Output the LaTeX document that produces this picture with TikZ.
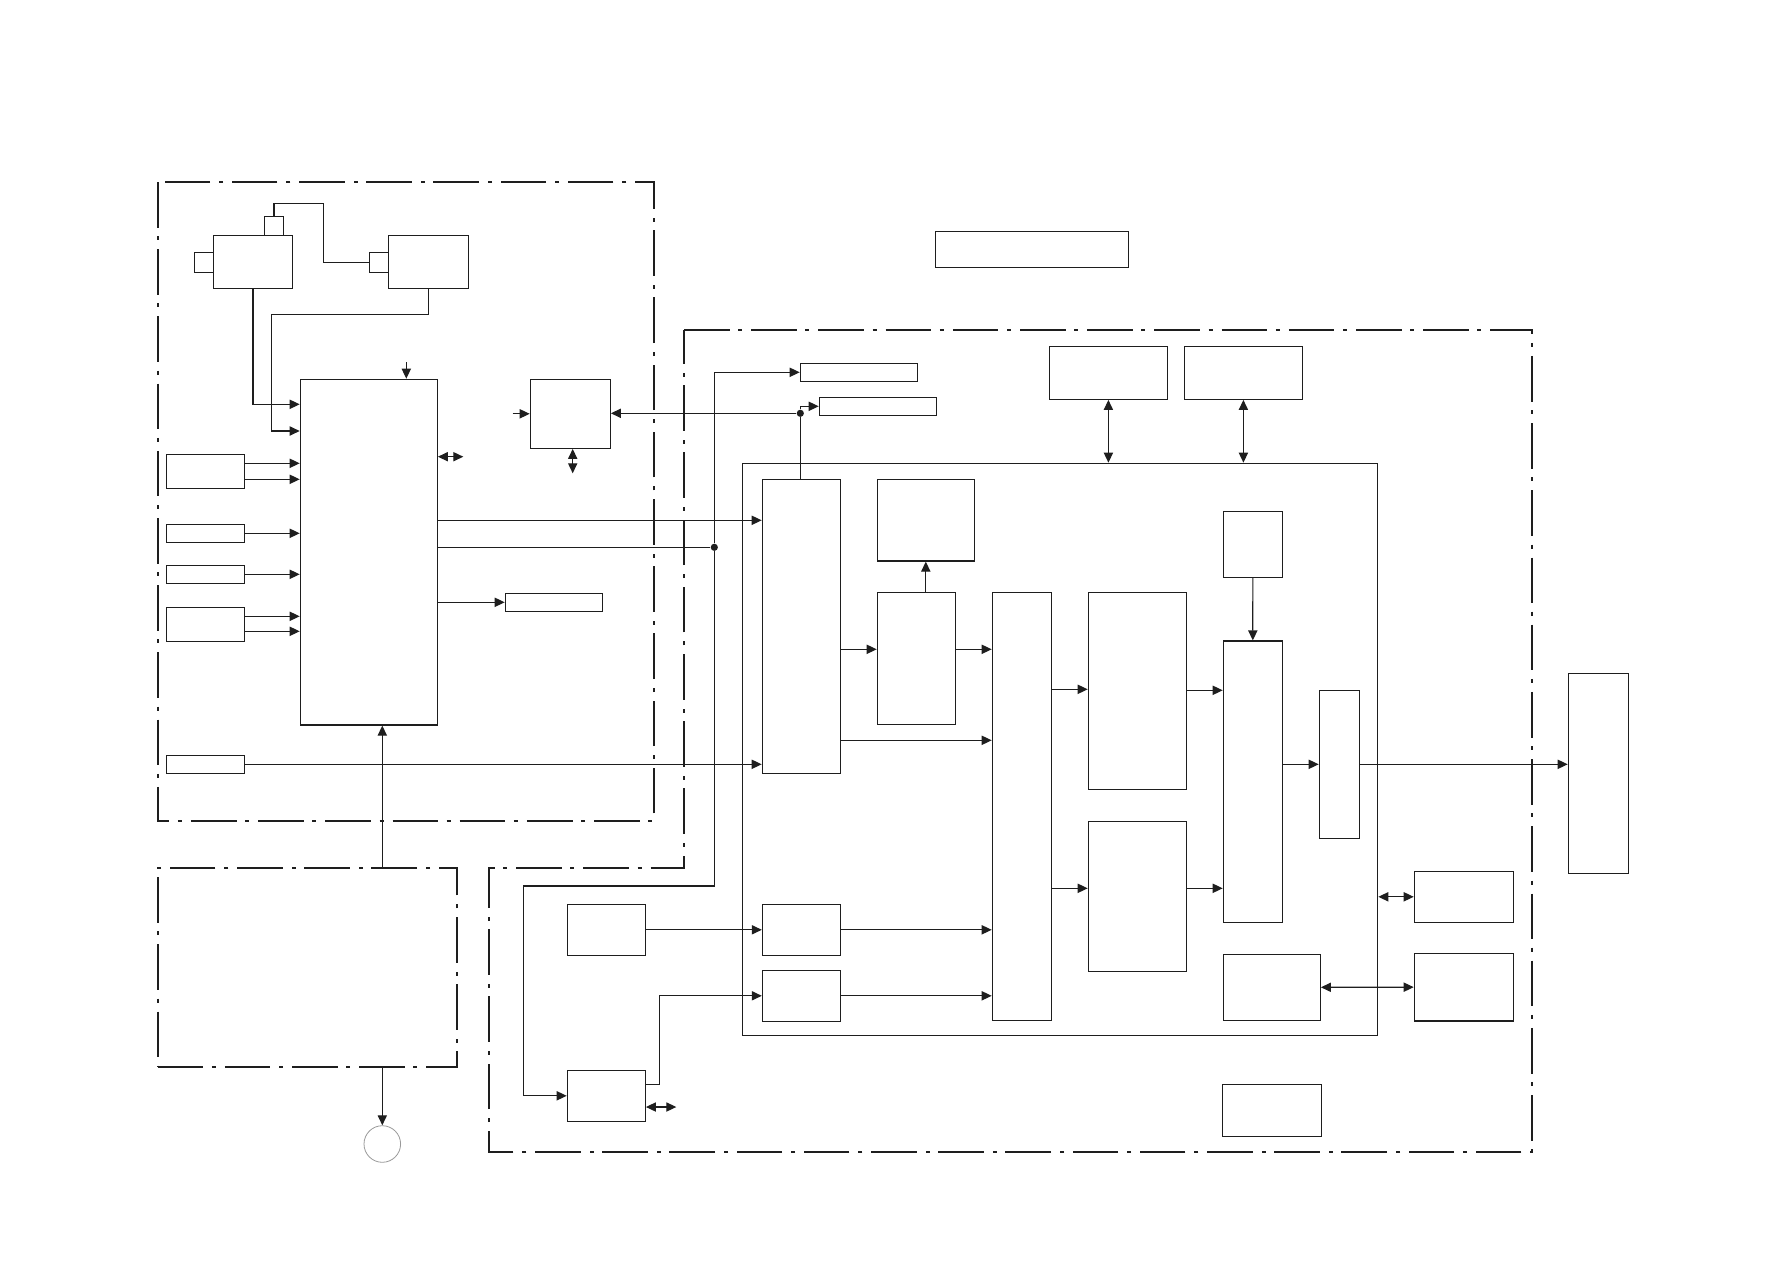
\documentclass[tikz,border=0pt]{standalone}
\usepackage{tikz}
\usetikzlibrary{arrows.meta,positioning,fit,calc}
\definecolor{linegray}{RGB}{30, 30, 30}

\begin{document}
\begin{tikzpicture}[
        x=0.5pt, y=-0.5pt,
        blk/.style={draw=linegray, line width=0.6pt, rectangle, inner sep=0pt},
        frame/.style={draw=linegray, line width=1.1pt, dash pattern=on 22.8pt off 4.3pt on 2pt off 4.5pt},
        dot/.style={circle, fill=linegray, inner sep=0pt, minimum size=3.6pt},
        arr/.style={draw=linegray, line width=0.6pt, -{Triangle[length=5pt, width=4.6pt]}},
        biarr/.style={draw=linegray, line width=0.6pt, {Triangle[length=5pt, width=4.6pt]}-{Triangle[length=5pt, width=4.6pt]}},
        wire/.style={draw=linegray, line width=0.6pt}
    ]
        \useasboundingbox (0,0) rectangle (1787,1263);

        % Frames
        \draw[frame] (157.6,182) rectangle (654,820.7);
        \draw[frame] (684,330.3) -- (1532,330.3) -- (1532,1151.7) -- (488.8,1151.7) -- (488.8,867.7) -- (684,867.7) -- cycle;
        \node[frame, rectangle, inner sep=0pt, fit={(157.6,867.7) (456.6,1066.7)}] (pwr) {};

        % Nodes: camera part
        \node[blk, fit={(213.3,235.3) (292.7,288.3)}] (cam) {};
        \node[blk, fit={(194.3,252.3) (213.3,272.3)}] (camside) {};
        \node[blk, fit={(264.3,216.3) (283.7,235.3)}] (camtop) {};
        \node[blk, fit={(388.3,235.3) (468.3,288.3)}] (lens) {};
        \node[blk, fit={(369.3,252.3) (388.3,272.3)}] (lensside) {};

        \node[blk, fit={(300.3,379.3) (437.3,725)}] (mcu) {};
        \node[blk, fit={(166.3,454.3) (244.3,488.3)}] (inA) {};
        \node[blk, fit={(166.3,524.3) (244.3,542.3)}] (inB) {};
        \node[blk, fit={(166.3,565.3) (244.3,583.3)}] (inC) {};
        \node[blk, fit={(166.3,607.3) (244.3,641.3)}] (inD) {};
        \node[blk, fit={(166.3,755.3) (244.3,773.3)}] (inE) {};
        \node[blk, fit={(505.3,593.3) (602.3,611.3)}] (outA) {};
        \node[blk, fit={(530.3,379.3) (610.3,448.3)}] (aux) {};
        \node[circle, draw=gray!80, line width=0.4pt, inner sep=0pt, minimum size=18.3pt] (gnd) at (382.3,1144) {};

        % Nodes: main board
        \node[blk, fit={(935.3,231.3) (1128.3,267.3)}] (title) {};
        \node[blk, fit={(1049.3,346.3) (1167.5,399.3)}] (memA) {};
        \node[blk, fit={(1184.3,346.3) (1302.5,399.3)}] (memB) {};
        \node[blk, fit={(742.3,463.3) (1377.7,1035.3)}] (soc) {};
        \node[blk, fit={(800.3,363.3) (917.3,381.3)}] (tagA) {};
        \node[blk, fit={(819.3,397.3) (936.3,415.3)}] (tagB) {};
        \node[blk, fit={(762.3,479.7) (840.3,773.3)}] (proc) {};
        \node[blk, fit={(877.3,479.7) (974.3,561)}] (boxC) {};
        \node[blk, fit={(877.3,592.3) (955.3,724.3)}] (boxCC) {};
        \node[blk, fit={(992.3,592.3) (1051.7,1020.3)}] (bus) {};
        \node[blk, fit={(1088.3,592.3) (1186.7,789.3)}] (gA) {};
        \node[blk, fit={(1088.3,821.3) (1186.7,971.3)}] (gB) {};
        \node[blk, fit={(1223.2,511.3) (1282.5,577.3)}] (boxF) {};
        \node[blk, fit={(1223.3,641) (1282.3,922.3)}] (mux) {};
        \node[blk, fit={(1319.3,690.3) (1359.7,838.3)}] (drv) {};
        \node[blk, fit={(1568.3,673.3) (1628.3,873.3)}] (disp) {};
        \node[blk, fit={(1414.3,871.3) (1513.3,922.3)}] (extA) {};
        \node[blk, fit={(1414.3,953.3) (1513.3,1021)}] (extB) {};
        \node[blk, fit={(1223.3,954.3) (1320.3,1020.3)}] (boxP) {};
        \node[blk, fit={(1222.3,1084.3) (1321.7,1136.3)}] (boxQ) {};
        \node[blk, fit={(567.3,904.3) (645.3,955.3)}] (boxJ) {};
        \node[blk, fit={(762.4,904.3) (840.5,955.3)}] (boxL) {};
        \node[blk, fit={(762.4,970.3) (840.5,1021.3)}] (boxM) {};
        \node[blk, fit={(567.3,1070.3) (645.3,1121.3)}] (boxK) {};

        % Junctions and free ends
        \node[dot] (jA) at (714.3,547.3) {};
        \node[dot] (jB) at (800.3,413.3) {};
        \coordinate (mcuin) at (406.3,362.3);
        \coordinate (mcuio) at (463.3,456.7);
        \coordinate (auxin) at (512.7,413.8);
        \coordinate (auxio) at (572.7,473.3);
        \coordinate (kio) at (676.3,1107);

        % Connectors: camera part
        \draw[wire] (camtop.north) |- (323.3,203.3) |- (lensside.west);
        \draw[arr] (cam.south) |- (mcu.west |- 0,404.3);
        \draw[arr] (lens.south) |- (271.3,314.3) |- (mcu.west |- 0,431);
        \draw[arr] (inA.east |- 0,463.3) -- (mcu.west |- 0,463.3);
        \draw[arr] (inA.east |- 0,479.3) -- (mcu.west |- 0,479.3);
        \draw[arr] (inB.east) -- (mcu.west |- inB.east);
        \draw[arr] (inC.east) -- (mcu.west |- inC.east);
        \draw[arr] (inD.east |- 0,616.3) -- (mcu.west |- 0,616.3);
        \draw[arr] (inD.east |- 0,631.3) -- (mcu.west |- 0,631.3);
        \draw[arr] (mcu.east |- outA.west) -- (outA.west);
        \draw[arr] (mcuin) -- (mcuin |- mcu.north);
        \draw[biarr] (mcu.east |- mcuio) -- (mcuio);
        \draw[arr] (auxin) -- (aux.west);
        \draw[biarr] (auxio |- aux.south) -- (auxio);
        \draw[arr] (382.3,0 |- pwr.north) -- (382.3,0 |- mcu.south);
        \draw[arr] (382.3,0 |- pwr.south) -- (gnd.north);

        % Connectors: to main board
        \draw[arr] (jB) -- (aux.east |- jB);
        \draw[arr] (jB) |- (tagB.west);
        \draw[wire] (jB) -- (jB |- proc.north);
        \draw[arr] (mcu.east |- 0,520.3) -- (proc.west |- 0,520.3);
        \draw[wire] (mcu.east |- jA) -- (jA);
        \draw[arr] (jA) |- (tagA.west);
        \draw[arr] (jA) |- (523.2,886) |- (boxK.west);
        \draw[arr] (inE.east) -- (proc.west |- inE.east);

        % Connectors: main board
        \draw[biarr] (memA.south) -- (memA.south |- soc.north);
        \draw[biarr] (memB.south) -- (memB.south |- soc.north);
        \draw[arr] (proc.east |- 0,649.3) -- (boxCC.west |- 0,649.3);
        \draw[arr] (boxCC.east |- 0,649.3) -- (bus.west |- 0,649.3);
        \draw[arr] (boxC.south |- boxCC.north) -- (boxC.south);
        \draw[arr] (proc.east |- 0,740.3) -- (bus.west |- 0,740.3);
        \draw[arr] (bus.east |- 0,689.3) -- (gA.west |- 0,689.3);
        \draw[arr] (bus.east |- 0,888.3) -- (gB.west |- 0,888.3);
        \draw[arr] (gA.east |- 0,690.3) -- (mux.west |- 0,690.3);
        \draw[arr] (gB.east |- 0,888.3) -- (mux.west |- 0,888.3);
        \draw[arr] (boxF.south) -- (mux.north);
        \draw[arr] (mux.east |- drv.west) -- (drv.west);
        \draw[arr] (drv.east) -- (disp.west |- drv.east);
        \draw[biarr] (soc.east |- extA.west) -- (extA.west);
        \draw[biarr] (boxP.east) -- (extB.west);
        \draw[arr] (boxJ.east) -- (boxL.west);
        \draw[arr] (boxL.east) -- (bus.west |- boxL.east);
        \draw[arr] (boxK.east |- 0,1084.3) -- (659.5,1084.3) |- (boxM.west);
        \draw[arr] (boxM.east) -- (bus.west |- boxM.east);
        \draw[biarr] (boxK.east |- kio) -- (kio);
    \end{tikzpicture}
\end{document}
